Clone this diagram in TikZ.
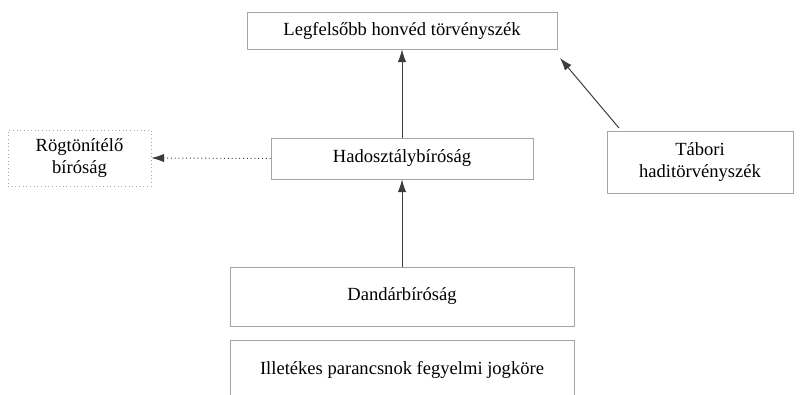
\documentclass[tikz,border=0pt]{standalone}
\usepackage{fontspec}
\setmainfont{Liberation Serif}
\usetikzlibrary{arrows.meta}
\definecolor{boxgray}{RGB}{165,165,165}
\definecolor{arrowgray}{RGB}{60,60,60}
\begin{document}
\begin{tikzpicture}[
	court/.style={draw=boxgray, line width=0.6pt, align=center, inner sep=0pt, font=\fontsize{13.2}{15.5}\selectfont},
	link/.style={draw=arrowgray, line width=0.7pt, -{Latex[length=9pt,width=6pt]}},
	dotlink/.style={link, dotted}]

	\useasboundingbox (0,0) rectangle (20,-9.875);

	\node[court, minimum width=7.75cm, minimum height=0.925cm] (legf) at (10.05,-0.7625) {Legfelsőbb honvéd törvényszék};
	\node[court, minimum width=6.55cm, minimum height=1.025cm] (hadoszt) at (10.05,-3.9625) {Hadosztálybíróság};
	\node[court, dotted, minimum width=3.575cm, minimum height=1.4cm] (rogton) at (1.9875,-3.95) {Rögtönítélő\\bíróság};
	\node[court, minimum width=4.65cm, minimum height=1.55cm] (tabori) at (17.5,-4.05) {Tábori\\haditörvényszék};
	\node[court, minimum width=8.6cm, minimum height=1.475cm] (dandar) at (10.05,-7.4125) {Dandárbíróság};
	\node[court, minimum width=8.6cm, minimum height=1.475cm] (illet) at (10.05,-9.2375) {Illetékes parancsnok fegyelmi jogköre};

	\coordinate (tabfrom) at (15.475,-3.2);
	\coordinate (legfto) at (14,-1.45);

	\draw[link] (hadoszt) -- (legf);
	\draw[link] (dandar) -- (hadoszt);
	\draw[dotlink] (hadoszt.west) -- (rogton.east);
	\draw[link] (tabfrom) -- (legfto);

\end{tikzpicture}
\end{document}
